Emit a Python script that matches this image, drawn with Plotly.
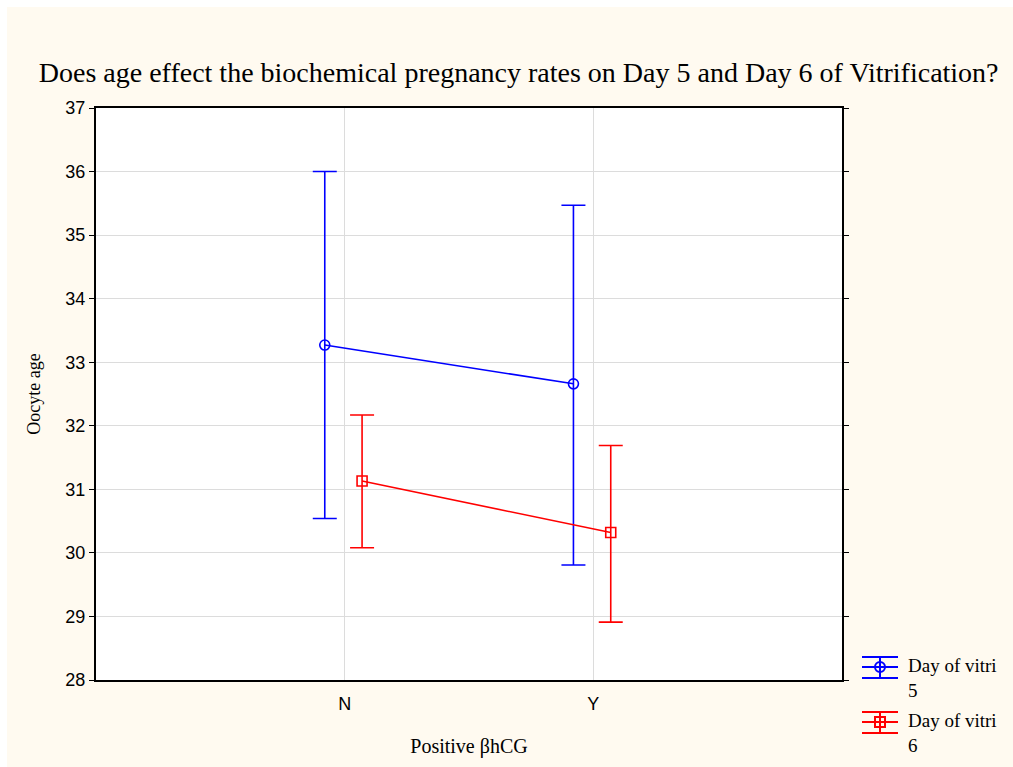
import plotly.graph_objects as go

categories = ["N", "Y"]
series_names = ["Day of vitri<br>5", "Day of vitri<br>6"]
day5_mean = [33.27, 32.66]
day5_upper = [36.00, 35.47]
day5_lower = [30.54, 29.81]
day6_mean = [31.13, 30.32]
day6_upper = [32.17, 31.69]
day6_lower = [30.08, 28.91]
y_ticks = [28, 29, 30, 31, 32, 33, 34, 35, 36, 37]

W, H = 1013, 767
L, R, T, B = 96, 171, 108, 87
CREAM = "#FFFAF0"
serif = "Liberation Serif, Times New Roman, serif"
sans = "Liberation Sans, Arial, sans-serif"

fig = go.Figure()

series = [
    (day5_mean, day5_upper, day5_lower, "#0000FF", "circle-open", -0.08),
    (day6_mean, day6_upper, day6_lower, "#FF0000", "square-open", 0.07),
]
for i, (m, up, lo, col, sym, off) in enumerate(series):
    xs = [k + off for k in range(len(categories))]
    fig.add_trace(go.Scatter(
        x=xs, y=m, mode="lines+markers", name=series_names[i],
        line=dict(color=col, width=1.6),
        marker=dict(symbol=sym, size=10, color=col, line=dict(width=1.6, color=col)),
        error_y=dict(type="data", symmetric=False,
                     array=[u - v for u, v in zip(up, m)],
                     arrayminus=[v - d for v, d in zip(m, lo)],
                     color=col, thickness=1.6, width=12),
        showlegend=False,
    ))

fig.update_layout(
    width=W, height=H,
    margin=dict(l=L, r=R, t=T, b=B),
    paper_bgcolor=CREAM,
    plot_bgcolor="white",
    title=dict(text="Does age effect the biochemical pregnancy rates on Day 5 and Day 6 of Vitrification?",
               x=0.512, xanchor="center", y=1 - 72 / H, yanchor="middle",
               font=dict(family=serif, size=28, color="black")),
    xaxis=dict(range=[-1, 2], tickvals=list(range(len(categories))), ticktext=categories,
               showgrid=True, gridcolor="#DCDCDC", gridwidth=1,
               showline=True, linecolor="black", linewidth=2, mirror=True,
               ticks="", zeroline=False, ticklabelstandoff=6,
               tickfont=dict(family=sans, size=18, color="black"),
               title=dict(text="Positive βhCG", font=dict(family=serif, size=20, color="black"), standoff=26)),
    yaxis=dict(range=[28, 37], tickvals=y_ticks,
               showgrid=True, gridcolor="#DCDCDC", gridwidth=1,
               showline=True, linecolor="black", linewidth=2, mirror="ticks",
               ticks="outside", ticklen=5, tickcolor="black", zeroline=False,
               tickfont=dict(family=sans, size=18, color="black"),
               title=dict(text="Oocyte age", font=dict(family=serif, size=18, color="black"), standoff=20)),
)

# white strips on the top and left edge
pw, ph = W - L - R, H - T - B
shapes = [
    dict(type="rect", xref="paper", yref="paper", x0=-L / pw, x1=(-L + 7) / pw,
         y0=-B / ph, y1=1 + T / ph, fillcolor="white", line=dict(width=0), layer="below"),
    dict(type="rect", xref="paper", yref="paper", x0=-L / pw, x1=1 + R / pw,
         y0=1 + (T - 7) / ph, y1=1 + T / ph, fillcolor="white", line=dict(width=0), layer="below"),
]

# custom legend (pixel positions converted to paper coords)
def px(x):
    return (x - L) / pw
def py(y):
    return (H - B - y) / ph

legend_items = [(0, 667, "#0000FF", "circle"), (1, 722, "#FF0000", "square")]
for idx, cy, col, shp in legend_items:
    for dy in (-10, 0, 11):
        shapes.append(dict(type="line", xref="paper", yref="paper", x0=px(862), x1=px(898),
                           y0=py(cy + dy), y1=py(cy + dy), line=dict(color=col, width=2)))
    shapes.append(dict(type="line", xref="paper", yref="paper", x0=px(880), x1=px(880),
                       y0=py(cy - 10), y1=py(cy + 11), line=dict(color=col, width=2)))
    shapes.append(dict(type="circle" if shp == "circle" else "rect", xref="paper", yref="paper",
                       x0=px(875), x1=px(885), y0=py(cy - 5), y1=py(cy + 5),
                       line=dict(color=col, width=2), fillcolor="rgba(0,0,0,0)"))
    fig.add_annotation(xref="paper", yref="paper", x=px(906), y=py(cy - 14), xanchor="left", yanchor="top",
                       text=series_names[idx], showarrow=False, align="left",
                       font=dict(family=serif, size=19, color="black"))

fig.update_layout(shapes=shapes)
fig.write_html("out.html")
